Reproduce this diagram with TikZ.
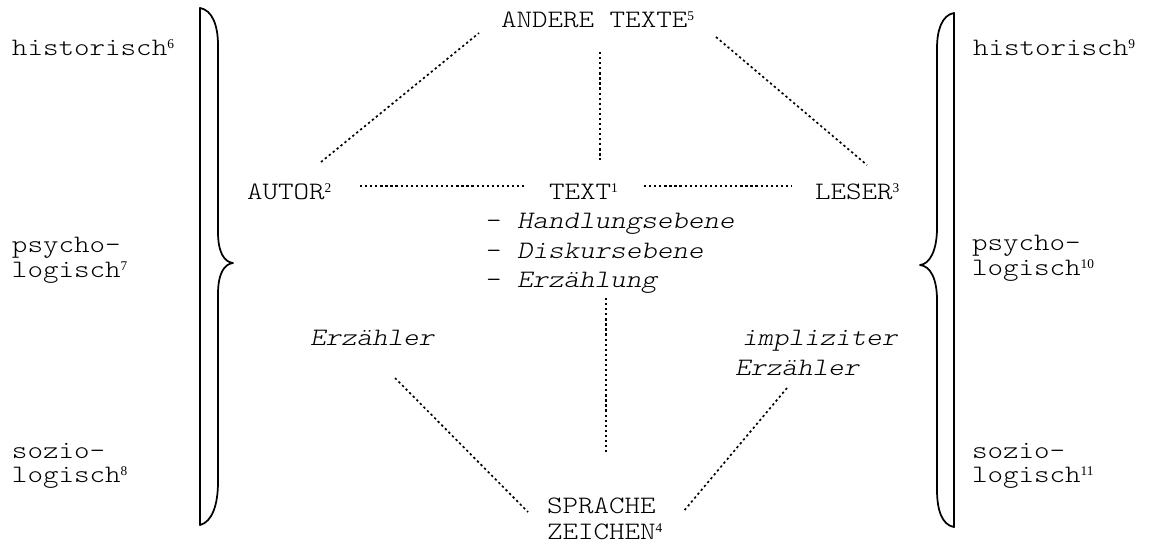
\documentclass[tikz,border=0pt]{standalone}
\usepackage{fontspec}
\setmainfont{lmmonolt10-regular.otf}[FakeStretch=1.18, ItalicFont=lmmonolt10-oblique.otf]
\newfontfamily\supfont{Liberation Serif}
\newcommand\supn[1]{\raisebox{5pt}{\supfont\fontsize{10}{10}\selectfont #1}}
\begin{document}
\begin{tikzpicture}[x=0.75pt,y=-0.75pt,
  lbl/.style={inner sep=0pt, outer sep=0pt, anchor=base west, font=\fontsize{18.8}{19}\selectfont},
  itl/.style={lbl, font=\fontsize{18.8}{19}\selectfont\itshape},
  dots/.style={line width=1.25pt, dash pattern=on 1.7pt off 2.1pt},
  brace/.style={line width=1.3pt, line join=round, line cap=round}]
\useasboundingbox (0,0) rectangle (1167,544);

% left labels
\node[lbl] (h6) at (12,55) {historisch\supn{6}};
\node[lbl] (p7a) at (12,252) {psycho-};
\node[lbl] (p7b) at (12,277) {logisch\supn{7}};
\node[lbl] (s8a) at (12,458) {sozio-};
\node[lbl] (s8b) at (12,482) {logisch\supn{8}};

% right labels
\node[lbl] (h9) at (973,55) {historisch\supn{9}};
\node[lbl] (p10a) at (972,250) {psycho-};
\node[lbl] (p10b) at (972,275) {logisch\supn{10}};
\node[lbl] (s11a) at (972,458) {sozio-};
\node[lbl] (s11b) at (972,482) {logisch\supn{11}};

% braces
\draw[brace] (200,8) -- (200,525);
\draw[brace] (200,8) .. controls (212,10) and (218,25) .. (218,45)
  -- (218,232) .. controls (218,252) and (224,262) .. (233,263)
  .. controls (224,264) and (218,274) .. (218,294)
  -- (218,482) .. controls (218,505) and (212,522) .. (200,525);
\draw[brace] (954,13) -- (954,527);
\draw[brace] (954,13) .. controls (942,15) and (937,30) .. (937,48)
  -- (937,228) .. controls (937,250) and (930,264) .. (920,265)
  .. controls (930,266) and (937,278) .. (937,300)
  -- (937,490) .. controls (937,510) and (942,525) .. (954,527);

% centre nodes
\node[lbl] (andere) at (501,27) {ANDERE TEXTE\supn{5}};
\node[lbl] (autor) at (247,199) {AUTOR\supn{2}};
\node[lbl] (text) at (549,199) {TEXT\supn{1}};
\node[lbl] (leser) at (815,199) {LESER\supn{3}};
\node[lbl] (hand) at (486,228) {- \textit{Handlungsebene}};
\node[lbl] (disk) at (486,258) {- \textit{Diskursebene}};
\node[lbl] (erzg) at (486,287) {- \textit{Erzählung}};
\node[itl] (erzl) at (310,345) {Erzähler};
\node[itl] (impl) at (742,345) {impliziter};
\node[itl] (erzr) at (735,375) {Erzähler};
\node[lbl] (sprache) at (547,513) {SPRACHE};
\node[lbl] (zeichen) at (547,539) {ZEICHEN\supn{4}};

% connector end points
\coordinate (ad1) at (321,162); \coordinate (ad2) at (479,33);
\coordinate (tv1) at (600,52);  \coordinate (tv2) at (600,160);
\coordinate (ld1) at (716,37);  \coordinate (ld2) at (867,165);
\coordinate (at1) at (360,186); \coordinate (at2) at (527,186);
\coordinate (tl1) at (644,186); \coordinate (tl2) at (792,186);
\coordinate (bv1) at (606,298); \coordinate (bv2) at (606,452);
\coordinate (ed1) at (395,378); \coordinate (ed2) at (528,512);
\coordinate (id1) at (787,388); \coordinate (id2) at (683,512);

\draw[dots] (ad1) -- (ad2);
\draw[dots] (tv1) -- (tv2);
\draw[dots] (ld1) -- (ld2);
\draw[dots] (at1) -- (at2);
\draw[dots] (tl1) -- (tl2);
\draw[dots] (bv1) -- (bv2);
\draw[dots] (ed1) -- (ed2);
\draw[dots] (id1) -- (id2);
\end{tikzpicture}
\end{document}
